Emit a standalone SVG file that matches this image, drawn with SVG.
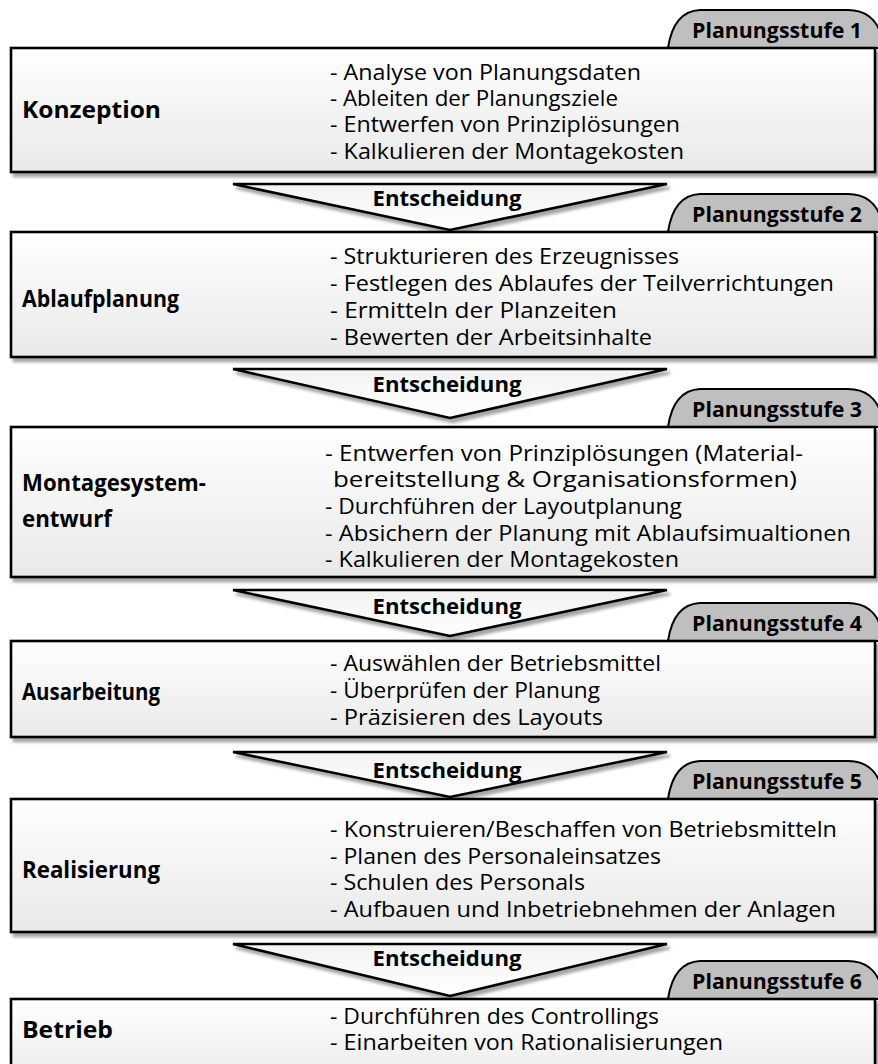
<svg xmlns="http://www.w3.org/2000/svg" width="878" height="1064" viewBox="0 0 878 1064">
  <defs>
    <linearGradient id="boxFill" x1="0" y1="0" x2="0" y2="1">
      <stop offset="0" stop-color="#ffffff"/>
      <stop offset="1" stop-color="#e9e9e9"/>
    </linearGradient>
    <linearGradient id="arrowFill" x1="0" y1="0" x2="0" y2="1">
      <stop offset="0" stop-color="#f2f2f2"/>
      <stop offset="1" stop-color="#ffffff"/>
    </linearGradient>
    <filter id="shadow" x="-5%" y="-10%" width="115%" height="130%">
      <feDropShadow dx="3" dy="4" stdDeviation="1.8" flood-color="#000" flood-opacity="0.35"/>
    </filter>
  </defs>
  <style>
    .box { fill: url(#boxFill); stroke: #000; stroke-width: 2.6; }
    .tab { fill: #bfbfbf; stroke: #000; stroke-width: 2; }
    .arrow { fill: url(#arrowFill); stroke: #000; stroke-width: 2.6; stroke-linejoin: miter; }
    text { font-family: "Open Sans", "Liberation Sans", sans-serif; fill: #000; }
    .label { font-size: 23px; font-weight: bold; }
    .item { font-size: 21px; }
    .tabtext { font-size: 21px; font-weight: bold; }
    .dec { font-size: 21px; font-weight: bold; }
  </style>

  <rect width="878" height="1064" fill="#ffffff"/>

  <!-- decision connectors between the planning stages -->
  <g id="connectors">
    <g id="decision1">
      <path class="arrow" filter="url(#shadow)" d="M233,184 L667,184 L450,230 Z"/>
      <text class="dec" x="447" y="206" text-anchor="middle" textLength="149" lengthAdjust="spacingAndGlyphs">Entscheidung</text>
    </g>
    <g id="decision2">
      <path class="arrow" filter="url(#shadow)" d="M233,369 L667,369 L450,418 Z"/>
      <text class="dec" x="447" y="392" text-anchor="middle" textLength="149" lengthAdjust="spacingAndGlyphs">Entscheidung</text>
    </g>
    <g id="decision3">
      <path class="arrow" filter="url(#shadow)" d="M233,590 L667,590 L450,636 Z"/>
      <text class="dec" x="447" y="614" text-anchor="middle" textLength="149" lengthAdjust="spacingAndGlyphs">Entscheidung</text>
    </g>
    <g id="decision4">
      <path class="arrow" filter="url(#shadow)" d="M233,752 L667,752 L450,797 Z"/>
      <text class="dec" x="447" y="778" text-anchor="middle" textLength="149" lengthAdjust="spacingAndGlyphs">Entscheidung</text>
    </g>
    <g id="decision5">
      <path class="arrow" filter="url(#shadow)" d="M233,944 L667,944 L450,996 Z"/>
      <text class="dec" x="447" y="966" text-anchor="middle" textLength="149" lengthAdjust="spacingAndGlyphs">Entscheidung</text>
    </g>
  </g>

  <!-- stage 1 -->
  <g id="stage1">
    <path class="tab" d="M668,48 C671,28 679,11 700,10 L848,10 C866,10 876,20 880,32 L880,48 Z"/>
    <text class="tabtext" x="777" y="38" text-anchor="middle" textLength="170" lengthAdjust="spacingAndGlyphs">Planungsstufe 1</text>
    <rect class="box" filter="url(#shadow)" x="11" y="48" width="864" height="124"/>
    <text class="label" x="22" y="118" textLength="139" lengthAdjust="spacingAndGlyphs">Konzeption</text>
    <text class="item" x="330" y="80" textLength="311" lengthAdjust="spacingAndGlyphs">- Analyse von Planungsdaten</text>
    <text class="item" x="330" y="106" textLength="288" lengthAdjust="spacingAndGlyphs">- Ableiten der Planungsziele</text>
    <text class="item" x="330" y="132" textLength="350" lengthAdjust="spacingAndGlyphs">- Entwerfen von Prinziplösungen</text>
    <text class="item" x="330" y="159" textLength="354" lengthAdjust="spacingAndGlyphs">- Kalkulieren der Montagekosten</text>
  </g>

  <!-- stage 2 -->
  <g id="stage2">
    <path class="tab" d="M668,232 C671,212 679,195 700,194 L848,194 C866,194 876,204 880,216 L880,232 Z"/>
    <text class="tabtext" x="777" y="222" text-anchor="middle" textLength="170" lengthAdjust="spacingAndGlyphs">Planungsstufe 2</text>
    <rect class="box" filter="url(#shadow)" x="11" y="232" width="864" height="125"/>
    <text class="label" x="22" y="307" textLength="157" lengthAdjust="spacingAndGlyphs">Ablaufplanung</text>
    <text class="item" x="330" y="264" textLength="349" lengthAdjust="spacingAndGlyphs">- Strukturieren des Erzeugnisses</text>
    <text class="item" x="330" y="291" textLength="504" lengthAdjust="spacingAndGlyphs">- Festlegen des Ablaufes der Teilverrichtungen</text>
    <text class="item" x="330" y="318" textLength="287" lengthAdjust="spacingAndGlyphs">- Ermitteln der Planzeiten</text>
    <text class="item" x="330" y="345" textLength="322" lengthAdjust="spacingAndGlyphs">- Bewerten der Arbeitsinhalte</text>
  </g>

  <!-- stage 3 -->
  <g id="stage3">
    <path class="tab" d="M668,427 C671,407 679,390 700,389 L848,389 C866,389 876,399 880,411 L880,427 Z"/>
    <text class="tabtext" x="777" y="417" text-anchor="middle" textLength="170" lengthAdjust="spacingAndGlyphs">Planungsstufe 3</text>
    <rect class="box" filter="url(#shadow)" x="11" y="427" width="864" height="150"/>
    <text class="label" x="22" y="491" textLength="184" lengthAdjust="spacingAndGlyphs">Montagesystem-</text>
    <text class="label" x="22" y="527" textLength="90" lengthAdjust="spacingAndGlyphs">entwurf</text>
    <text class="item" x="325" y="461" textLength="478" lengthAdjust="spacingAndGlyphs">- Entwerfen von Prinziplösungen (Material-</text>
    <text class="item" x="333" y="487" textLength="464" lengthAdjust="spacingAndGlyphs">bereitstellung &amp; Organisationsformen)</text>
    <text class="item" x="325" y="514" textLength="357" lengthAdjust="spacingAndGlyphs">- Durchführen der Layoutplanung</text>
    <text class="item" x="325" y="541" textLength="526" lengthAdjust="spacingAndGlyphs">- Absichern der Planung mit Ablaufsimualtionen</text>
    <text class="item" x="325" y="567" textLength="354" lengthAdjust="spacingAndGlyphs">- Kalkulieren der Montagekosten</text>
  </g>

  <!-- stage 4 -->
  <g id="stage4">
    <path class="tab" d="M668,641 C671,621 679,604 700,603 L848,603 C866,603 876,613 880,625 L880,641 Z"/>
    <text class="tabtext" x="777" y="631" text-anchor="middle" textLength="170" lengthAdjust="spacingAndGlyphs">Planungsstufe 4</text>
    <rect class="box" filter="url(#shadow)" x="11" y="641" width="864" height="96"/>
    <text class="label" x="22" y="700" textLength="138" lengthAdjust="spacingAndGlyphs">Ausarbeitung</text>
    <text class="item" x="330" y="671" textLength="331" lengthAdjust="spacingAndGlyphs">- Auswählen der Betriebsmittel</text>
    <text class="item" x="330" y="698" textLength="270" lengthAdjust="spacingAndGlyphs">- Überprüfen der Planung</text>
    <text class="item" x="330" y="725" textLength="273" lengthAdjust="spacingAndGlyphs">- Präzisieren des Layouts</text>
  </g>

  <!-- stage 5 -->
  <g id="stage5">
    <path class="tab" d="M668,799 C671,779 679,762 700,761 L848,761 C866,761 876,771 880,783 L880,799 Z"/>
    <text class="tabtext" x="777" y="789" text-anchor="middle" textLength="170" lengthAdjust="spacingAndGlyphs">Planungsstufe 5</text>
    <rect class="box" filter="url(#shadow)" x="11" y="799" width="864" height="133"/>
    <text class="label" x="22" y="878" textLength="138" lengthAdjust="spacingAndGlyphs">Realisierung</text>
    <text class="item" x="330" y="837" textLength="507" lengthAdjust="spacingAndGlyphs">- Konstruieren/Beschaffen von Betriebsmitteln</text>
    <text class="item" x="330" y="864" textLength="331" lengthAdjust="spacingAndGlyphs">- Planen des Personaleinsatzes</text>
    <text class="item" x="330" y="890" textLength="255" lengthAdjust="spacingAndGlyphs">- Schulen des Personals</text>
    <text class="item" x="330" y="917" textLength="506" lengthAdjust="spacingAndGlyphs">- Aufbauen und Inbetriebnehmen der Anlagen</text>
  </g>

  <!-- stage 6 -->
  <g id="stage6">
    <path class="tab" d="M668,999 C671,979 679,962 700,961 L848,961 C866,961 876,971 880,983 L880,999 Z"/>
    <text class="tabtext" x="777" y="989" text-anchor="middle" textLength="170" lengthAdjust="spacingAndGlyphs">Planungsstufe 6</text>
    <rect class="box" filter="url(#shadow)" x="11" y="999" width="864" height="90"/>
    <text class="label" x="22" y="1038" textLength="91" lengthAdjust="spacingAndGlyphs">Betrieb</text>
    <text class="item" x="330" y="1024" textLength="329" lengthAdjust="spacingAndGlyphs">- Durchführen des Controllings</text>
    <text class="item" x="330" y="1050" textLength="393" lengthAdjust="spacingAndGlyphs">- Einarbeiten von Rationalisierungen</text>
  </g>
</svg>
